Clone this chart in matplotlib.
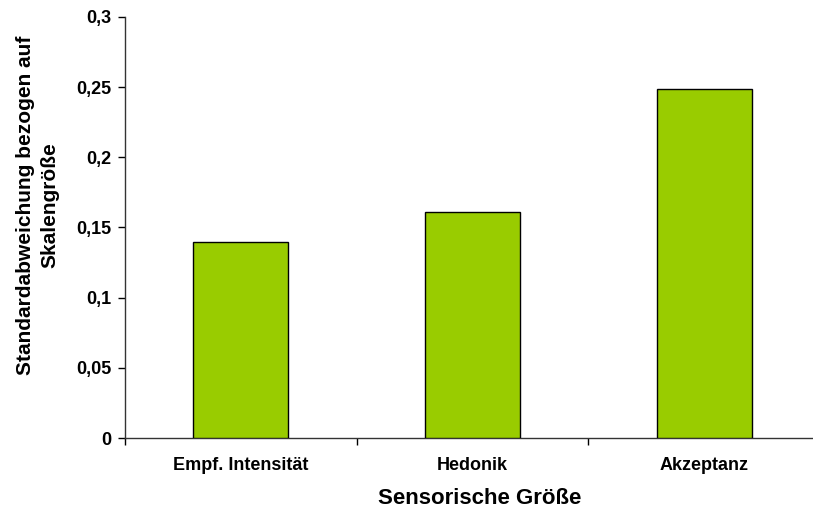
import matplotlib
matplotlib.use('Agg')
import matplotlib.pyplot as plt
from matplotlib.ticker import FixedLocator, FuncFormatter

# Daten aus dem Diagramm
kategorien = ['Empf. Intensität', 'Hedonik', 'Akzeptanz']
werte = [0.140, 0.161, 0.249]
y_ticks = [0, 0.05, 0.1, 0.15, 0.2, 0.25, 0.3]

plt.rcParams['font.family'] = ['Liberation Sans', 'DejaVu Sans']

fig = plt.figure(figsize=(8.13, 5.11), dpi=100)
W, H = 813, 511
# Achse in Pixeln: links 125, unten 438, oben 17, rechts 820 (ausserhalb)
ax = fig.add_axes([125 / W, (H - 438) / H, (820 - 125) / W, (438 - 17) / H])

x = list(range(len(kategorien)))
ax.bar(x, werte, width=0.41, color='#99cc00', edgecolor='black', linewidth=1.0, zorder=3)

ax.set_xlim(-0.5, 2.5)
ax.set_ylim(0, 0.3)

ax.spines['top'].set_visible(False)
ax.spines['right'].set_visible(False)
for s in ('left', 'bottom'):
    ax.spines[s].set_color('#333333')
    ax.spines[s].set_linewidth(1.0)

ax.yaxis.set_major_locator(FixedLocator(y_ticks))
ax.yaxis.set_major_formatter(FuncFormatter(lambda v, p: ('%g' % v).replace('.', ',')))
ax.tick_params(axis='y', direction='out', length=5, width=1, labelsize=13, pad=5)
for lbl in ax.get_yticklabels():
    lbl.set_fontweight('bold')

# Excel-Stil: Ticks zwischen den Kategorien, Beschriftung mittig
ax.set_xticks([-0.5, 0.5, 1.5, 2.5])
ax.set_xticklabels([])
ax.set_xticks(x, minor=True)
ax.set_xticklabels(kategorien, minor=True, fontsize=13, fontweight='bold')
ax.tick_params(axis='x', which='major', direction='out', length=5, width=1)
ax.tick_params(axis='x', which='minor', length=0, pad=14)

fig.text(480 / W, 1 - 498 / H, 'Sensorische Größe', ha='center', va='center',
         fontsize=16, fontweight='bold')
fig.text(38 / W, 1 - 205 / H, 'Standardabweichung bezogen auf\nSkalengröße',
         ha='center', va='center', rotation=90, fontsize=15, fontweight='bold',
         linespacing=1.35)

fig.savefig('out.png', dpi=100)
